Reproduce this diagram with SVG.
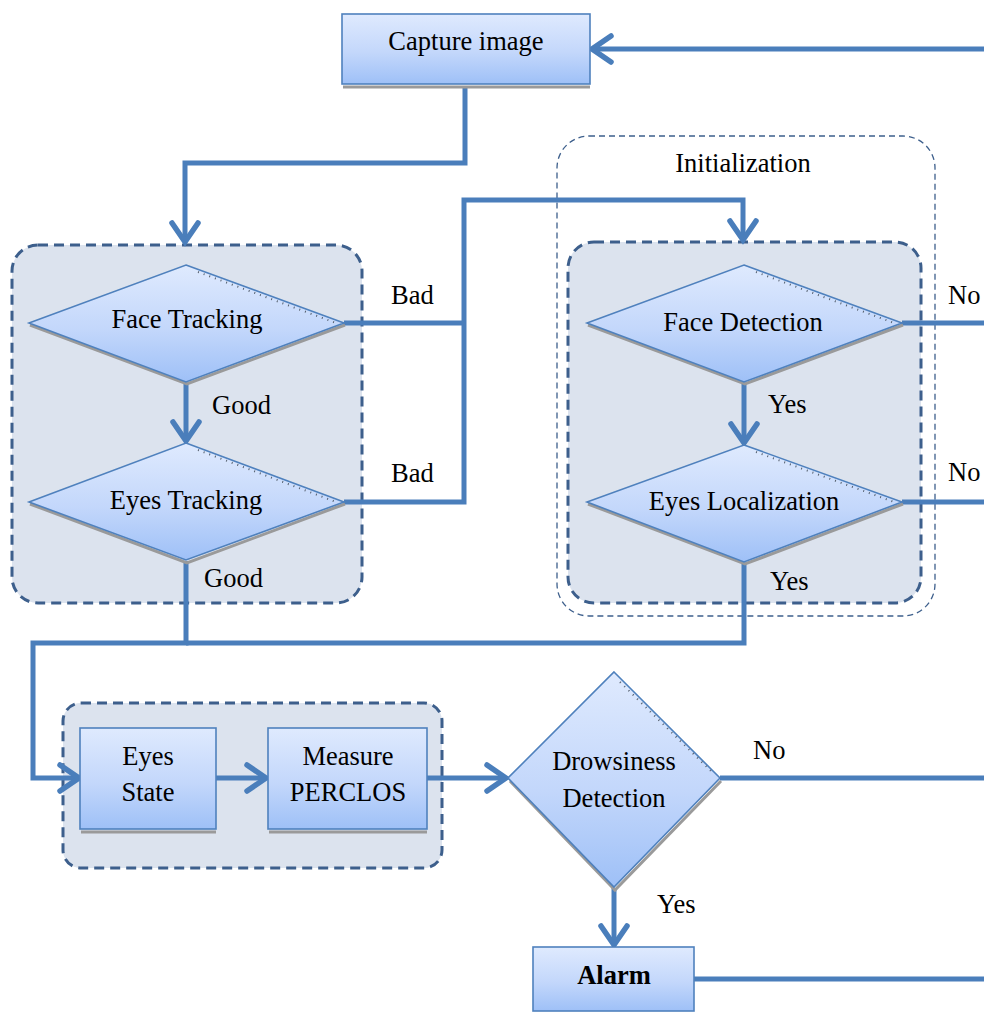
<svg xmlns="http://www.w3.org/2000/svg" width="984" height="1013" viewBox="0 0 984 1013">
<style>
  .t { font-size: 26.5px; fill: #000; }
  .c { text-anchor: middle; }
  .node { fill: url(#g); stroke: #4f81bd; stroke-width: 1.6; }
  .shadow { fill: none; stroke: #9a9a9a; stroke-width: 3; }
  .dots { fill: none; stroke: #55606e; stroke-width: 2; stroke-dasharray: 1 5; }
  .grp { fill: #dce3ee; stroke: #3d5f8c; stroke-width: 3; stroke-dasharray: 10 6; }
  .init { fill: none; stroke: #3d5f8c; stroke-width: 1.3; stroke-dasharray: 6 4; }
  .conn { fill: none; stroke: #4a7ebb; stroke-width: 5; }
  .arr { marker-end: url(#ah); }
</style>
<defs>
  <linearGradient id="g" x1="0" y1="0" x2="0" y2="1">
    <stop offset="0" stop-color="#dfeafe"/>
    <stop offset="0.55" stop-color="#c3d7fb"/>
    <stop offset="1" stop-color="#9ec0f7"/>
  </linearGradient>
  <marker id="ah" markerUnits="userSpaceOnUse" markerWidth="30" markerHeight="34" viewBox="-4 -17 28 34" refX="19" refY="0" orient="auto">
    <path d="M0,-13 L19,0 L0,13" fill="none" stroke="#4a7ebb" stroke-width="5.5" stroke-linecap="round"/>
  </marker>
</defs>

<rect width="984" height="1013" fill="#fff"/>

<g font-family="'Liberation Serif', 'Times New Roman', Times, serif" font-size="26.5">
<!-- group containers -->
<g id="tracking-group">
  <rect class="grp" x="12" y="245" width="350" height="358" rx="26"/>
</g>
<g id="initialization-group">
  <rect class="init" x="557" y="136" width="378" height="480" rx="32"/>
  <text class="t c" x="743" y="172">Initialization</text>
  <rect class="grp" x="568" y="242" width="353" height="361" rx="26"/>
</g>
<g id="measure-group">
  <rect class="grp" x="63" y="703" width="379" height="165" rx="18"/>
</g>

<!-- connectors -->
<g id="connectors">
  <path class="conn arr" d="M984,49 L592,49"/>
  <path class="conn arr" d="M465,86 L465,163 L185,163 L185,242"/>
  <path class="conn arr" d="M186,383 L186,441"/>
  <path class="conn" d="M344,323 L464,323"/>
  <path class="conn arr" d="M344,502 L464,502 L464,200 L743,200 L743,240"/>
  <path class="conn" d="M902,323 L984,323"/>
  <path class="conn" d="M902,502 L984,502"/>
  <path class="conn arr" d="M744,383 L744,443"/>
  <path class="conn arr" d="M186,561 L186,643 L33,643 L33,778 L79,778"/>
  <path class="conn" d="M744,563 L744,643 L186,643"/>
  <path class="conn arr" d="M216,778 L266,778"/>
  <path class="conn arr" d="M427,778 L506,778"/>
  <path class="conn" d="M720,778 L984,778"/>
  <path class="conn arr" d="M614,888 L614,945"/>
  <path class="conn" d="M694,979 L984,979"/>
  <text class="t" x="391" y="304">Bad</text>
  <text class="t" x="391" y="482">Bad</text>
  <text class="t" x="212" y="414">Good</text>
  <text class="t" x="204" y="587">Good</text>
  <text class="t" x="768" y="413">Yes</text>
  <text class="t" x="770" y="590">Yes</text>
  <text class="t" x="948" y="304">No</text>
  <text class="t" x="948" y="481">No</text>
  <text class="t" x="753" y="759">No</text>
  <text class="t" x="657" y="913">Yes</text>
</g>

<!-- nodes -->
<g id="capture-image">
  <path class="shadow" d="M343,87 L590,87"/>
  <rect class="node" x="342" y="14" width="248" height="70"/>
  <text class="t c" x="466" y="50">Capture image</text>
</g>

<g id="face-tracking">
  <path class="shadow" d="M30,325 L187,384 L345,325"/>
  <polygon class="node" points="186,265 344,323 186,382 29,323"/>
  <path class="dots" d="M198,272 L336,323"/>
  <text class="t c" x="187" y="328">Face Tracking</text>
</g>

<g id="eyes-tracking">
  <path class="shadow" d="M30,504 L187,563 L345,504"/>
  <polygon class="node" points="186,443 344,502 186,560 29,502"/>
  <path class="dots" d="M198,450 L336,502"/>
  <text class="t c" x="186" y="509">Eyes Tracking</text>
</g>

<g id="face-detection">
  <path class="shadow" d="M588,325 L745,384 L903,325"/>
  <polygon class="node" points="744,265 902,323 744,382 587,323"/>
  <path class="dots" d="M756,272 L894,323"/>
  <text class="t c" x="743" y="331">Face Detection</text>
</g>

<g id="eyes-localization">
  <path class="shadow" d="M588,504 L745,564 L903,504"/>
  <polygon class="node" points="744,445 902,502 744,562 587,502"/>
  <path class="dots" d="M756,452 L894,502"/>
  <text class="t c" x="744" y="510">Eyes Localization</text>
</g>

<g id="eyes-state">
  <path class="shadow" d="M81,832 L216,832"/>
  <rect class="node" x="80" y="728" width="136" height="101"/>
  <text class="t c" x="148" y="765">Eyes</text>
  <text class="t c" x="148" y="801">State</text>
</g>

<g id="measure-perclos">
  <path class="shadow" d="M269,832 L427,832"/>
  <rect class="node" x="268" y="728" width="159" height="101"/>
  <text class="t c" x="348" y="765">Measure</text>
  <text class="t c" x="348" y="801">PERCLOS</text>
</g>

<g id="drowsiness-detection">
  <path class="shadow" d="M510,781 L615,890 L721,781"/>
  <polygon class="node" points="614,672 720,778 614,887 508,778"/>
  <path class="dots" d="M620,682 L712,772"/>
  <text class="t c" x="614" y="770">Drowsiness</text>
  <text class="t c" x="614" y="807">Detection</text>
</g>

<g id="alarm">
  <rect class="node" x="533" y="947" width="161" height="64"/>
  <text class="t c" x="614" y="984" font-weight="bold">Alarm</text>
</g>
</g>
</svg>
